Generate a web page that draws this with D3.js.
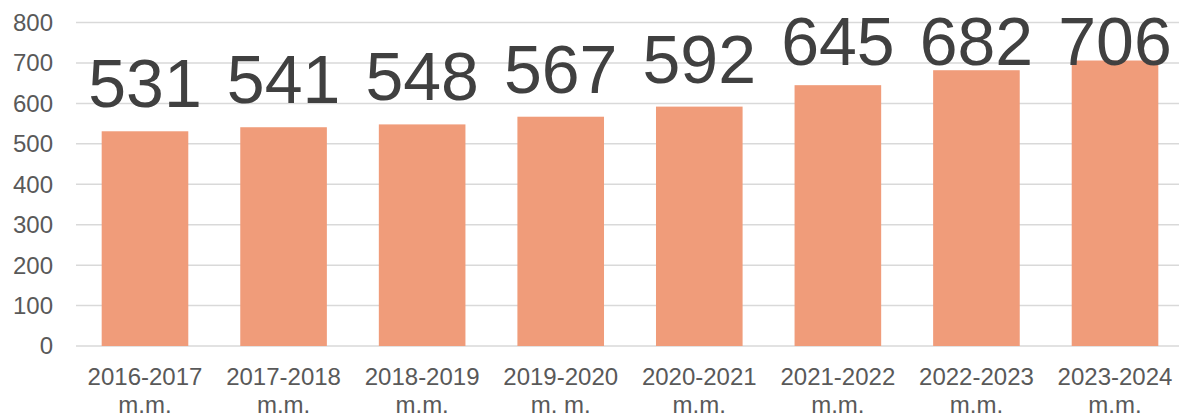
<!DOCTYPE html>
<html><head><meta charset="utf-8">
<script src="https://cdn.jsdelivr.net/npm/d3@7"></script>
<style>html,body{margin:0;padding:0;background:#fff;overflow:hidden}</style>
</head><body>
<svg id="c" width="1179" height="416"></svg>
<script>
const categories = ["2016-2017|m.m.","2017-2018|m.m.","2018-2019|m.m.","2019-2020|m. m.","2020-2021|m.m.","2021-2022|m.m.","2022-2023|m.m.","2023-2024|m.m."];
const values = [531,541,548,567,592,645,682,706];
const yTicks = [0,100,200,300,400,500,600,700,800];

const svg = d3.select("#c");
const font = "'Liberation Sans', Arial, sans-serif";
const x = d3.scaleBand().domain(categories).range([75.7,1184.3]).paddingInner(0.375).paddingOuter(0.1875);
const y = d3.scaleLinear().domain([0,800]).range([346,22.5]);

// gridlines
svg.append("g").selectAll("line").data(yTicks).join("line")
  .attr("x1",76).attr("x2",1179)
  .attr("y1",d=>y(d)).attr("y2",d=>y(d))
  .attr("stroke","#d9d9d9").attr("stroke-width",1.5);

// y tick labels
svg.append("g").selectAll("text").data(yTicks).join("text")
  .attr("x",53).attr("y",d=>y(d)).attr("dy","0.35em")
  .attr("text-anchor","end").attr("font-family",font).attr("font-size",24)
  .attr("fill","#595959").text(d=>d);

// bars
svg.append("g").selectAll("rect").data(values).join("rect")
  .attr("x",(d,i)=>x(categories[i])).attr("width",x.bandwidth())
  .attr("y",d=>y(d)).attr("height",d=>y(0)-y(d))
  .attr("fill","#f09c7a");

// value labels
svg.append("g").selectAll("text").data(values).join("text")
  .attr("x",(d,i)=>x(categories[i])+x.bandwidth()/2)
  .attr("y",d=>Math.max(65, y(d)-24))
  .attr("text-anchor","middle").attr("font-family",font).attr("font-size",68)
  .attr("fill","#404040").text(d=>d);

// x labels
const xl = svg.append("g").selectAll("text").data(categories).join("text")
  .attr("x",d=>x(d)+x.bandwidth()/2).attr("y",385)
  .attr("text-anchor","middle").attr("font-family",font).attr("font-size",24)
  .attr("fill","#595959");
xl.each(function(d){
  const parts = d.split("|");
  const t = d3.select(this);
  parts.forEach((p,i)=>t.append("tspan").attr("x",x(d)+x.bandwidth()/2).attr("dy",i?28:0).text(p));
});
</script>
</body></html>
